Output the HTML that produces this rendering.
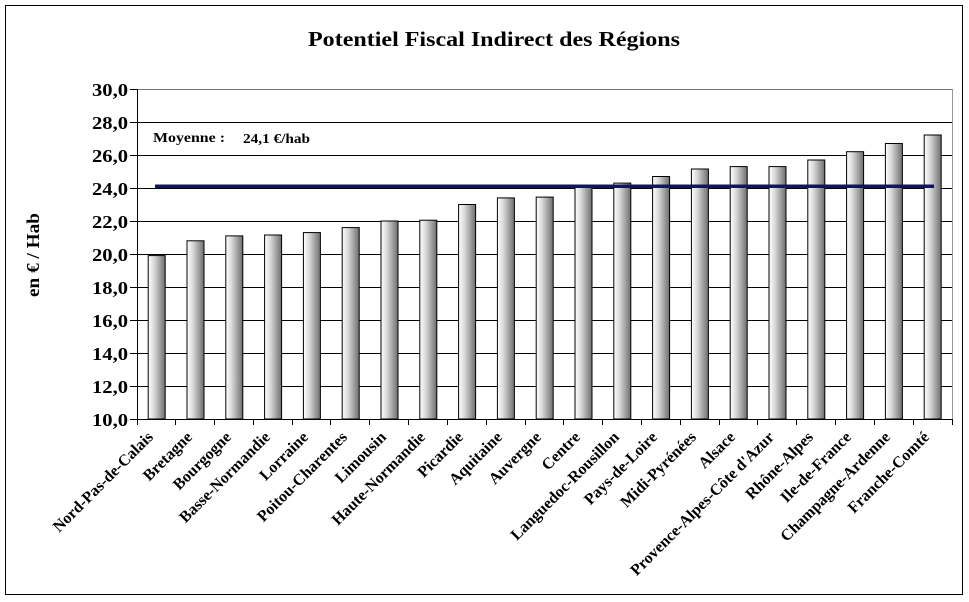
<!DOCTYPE html>
<html><head><meta charset="utf-8"><style>
html,body{margin:0;padding:0;background:#fff}
svg{display:block}
text{font-family:"Liberation Serif",serif;font-weight:bold;fill:#000}
</style></head><body>
<svg width="969" height="602" viewBox="0 0 969 602" xmlns="http://www.w3.org/2000/svg">
<defs>
<linearGradient id="g" x1="0" x2="1" y1="0" y2="0">
<stop offset="0" stop-color="#ffffff"/>
<stop offset="0.35" stop-color="#d8d8d8"/>
<stop offset="1" stop-color="#6e6e6e"/>
</linearGradient>
</defs>
<rect x="5.5" y="5.5" width="957" height="589" fill="#fff" stroke="#000" stroke-width="1"/>
<text x="494" y="46" font-size="21" text-anchor="middle" textLength="372" lengthAdjust="spacingAndGlyphs">Potentiel Fiscal Indirect des Régions</text>
<g stroke="#000" stroke-width="1">
<line x1="137" y1="89.5" x2="952" y2="89.5" stroke="#777"/>
<line x1="137" y1="122.5" x2="952" y2="122.5"/>
<line x1="137" y1="155.5" x2="952" y2="155.5"/>
<line x1="137" y1="188.5" x2="952" y2="188.5"/>
<line x1="137" y1="221.5" x2="952" y2="221.5"/>
<line x1="137" y1="254.5" x2="952" y2="254.5"/>
<line x1="137" y1="287.5" x2="952" y2="287.5"/>
<line x1="137" y1="320.5" x2="952" y2="320.5"/>
<line x1="137" y1="353.5" x2="952" y2="353.5"/>
<line x1="137" y1="386.5" x2="952" y2="386.5"/>
<line x1="952.5" y1="89" x2="952.5" y2="419" stroke="#999"/>
</g>
<g font-size="18" text-anchor="end">
<text x="128" y="96" textLength="36" lengthAdjust="spacingAndGlyphs">30,0</text>
<text x="128" y="129" textLength="36" lengthAdjust="spacingAndGlyphs">28,0</text>
<text x="128" y="162" textLength="36" lengthAdjust="spacingAndGlyphs">26,0</text>
<text x="128" y="195" textLength="36" lengthAdjust="spacingAndGlyphs">24,0</text>
<text x="128" y="228" textLength="36" lengthAdjust="spacingAndGlyphs">22,0</text>
<text x="128" y="261" textLength="36" lengthAdjust="spacingAndGlyphs">20,0</text>
<text x="128" y="294" textLength="36" lengthAdjust="spacingAndGlyphs">18,0</text>
<text x="128" y="327" textLength="36" lengthAdjust="spacingAndGlyphs">16,0</text>
<text x="128" y="360" textLength="36" lengthAdjust="spacingAndGlyphs">14,0</text>
<text x="128" y="393" textLength="36" lengthAdjust="spacingAndGlyphs">12,0</text>
<text x="128" y="426" textLength="36" lengthAdjust="spacingAndGlyphs">10,0</text>
</g>
<text transform="translate(39,255) rotate(-90)" font-size="18" text-anchor="middle" textLength="84" lengthAdjust="spacingAndGlyphs">en € / Hab</text>
<g fill="url(#g)" stroke="#000" stroke-width="1">
<rect x="148.2" y="255.6" width="17" height="163.4"/>
<rect x="187.0" y="240.8" width="17" height="178.2"/>
<rect x="225.8" y="235.9" width="17" height="183.1"/>
<rect x="264.6" y="235.0" width="17" height="184"/>
<rect x="303.4" y="232.6" width="17" height="186.4"/>
<rect x="342.2" y="227.6" width="17" height="191.4"/>
<rect x="381.0" y="221.0" width="17" height="198"/>
<rect x="419.8" y="220.2" width="17" height="198.8"/>
<rect x="458.6" y="204.5" width="17" height="214.5"/>
<rect x="497.4" y="197.9" width="17" height="221.1"/>
<rect x="536.2" y="197.1" width="17" height="221.9"/>
<rect x="575.0" y="186.4" width="17" height="232.6"/>
<rect x="613.8" y="183.1" width="17" height="235.9"/>
<rect x="652.6" y="176.5" width="17" height="242.5"/>
<rect x="691.4" y="169.0" width="17" height="250"/>
<rect x="730.2" y="166.6" width="17" height="252.4"/>
<rect x="769.0" y="166.6" width="17" height="252.4"/>
<rect x="807.8" y="160.0" width="17" height="259"/>
<rect x="846.6" y="151.7" width="17" height="267.3"/>
<rect x="885.4" y="143.5" width="17" height="275.5"/>
<rect x="924.2" y="135.0" width="17" height="284"/>
</g>
<line x1="155" y1="186.3" x2="934" y2="186.3" stroke="#14145a" stroke-width="3.5"/>
<text x="153" y="142" font-size="14" textLength="72" lengthAdjust="spacingAndGlyphs">Moyenne :</text>
<text x="243" y="143" font-size="14" textLength="67" lengthAdjust="spacingAndGlyphs">24,1 €/hab</text>
<g stroke="#000" stroke-width="1">
<line x1="137.5" y1="89" x2="137.5" y2="420"/>
<line x1="130" y1="419.5" x2="953" y2="419.5"/>
<line x1="130" y1="89.5" x2="137" y2="89.5"/><line x1="130" y1="122.5" x2="137" y2="122.5"/>
<line x1="130" y1="155.5" x2="137" y2="155.5"/><line x1="130" y1="188.5" x2="137" y2="188.5"/>
<line x1="130" y1="221.5" x2="137" y2="221.5"/><line x1="130" y1="254.5" x2="137" y2="254.5"/>
<line x1="130" y1="287.5" x2="137" y2="287.5"/><line x1="130" y1="320.5" x2="137" y2="320.5"/>
<line x1="130" y1="353.5" x2="137" y2="353.5"/><line x1="130" y1="386.5" x2="137" y2="386.5"/>
<path d="M137.5 419v6M175.5 419v6M214.5 419v6M253.5 419v6M292.5 419v6M330.5 419v6M369.5 419v6M408.5 419v6M447.5 419v6M486.5 419v6M525.5 419v6M563.5 419v6M602.5 419v6M641.5 419v6M680.5 419v6M719.5 419v6M757.5 419v6M796.5 419v6M835.5 419v6M874.5 419v6M913.5 419v6M952.5 419v6"/>
</g>
<g font-size="16" text-anchor="end">
<text transform="translate(154,438) rotate(-45)">Nord-Pas-de-Calais</text>
<text transform="translate(193,438) rotate(-45)">Bretagne</text>
<text transform="translate(232,438) rotate(-45)">Bourgogne</text>
<text transform="translate(271,438) rotate(-45)">Basse-Normandie</text>
<text transform="translate(309,438) rotate(-45)">Lorraine</text>
<text transform="translate(348,438) rotate(-45)">Poitou-Charentes</text>
<text transform="translate(387,438) rotate(-45)">Limousin</text>
<text transform="translate(426,438) rotate(-45)">Haute-Normandie</text>
<text transform="translate(464,438) rotate(-45)">Picardie</text>
<text transform="translate(503,438) rotate(-45)">Aquitaine</text>
<text transform="translate(542,438) rotate(-45)">Auvergne</text>
<text transform="translate(581,438) rotate(-45)">Centre</text>
<text transform="translate(620,438) rotate(-45)">Languedoc-Rousillon</text>
<text transform="translate(658,438) rotate(-45)">Pays-de-Loire</text>
<text transform="translate(697,438) rotate(-45)">Midi-Pyrénées</text>
<text transform="translate(736,438) rotate(-45)">Alsace</text>
<text transform="translate(775,438) rotate(-45)">Provence-Alpes-Côte d'Azur</text>
<text transform="translate(814,438) rotate(-45)">Rhône-Alpes</text>
<text transform="translate(852,438) rotate(-45)">Ile-de-France</text>
<text transform="translate(891,438) rotate(-45)">Champagne-Ardenne</text>
<text transform="translate(930,438) rotate(-45)">Franche-Comté</text>
</g>
</svg>
</body></html>
